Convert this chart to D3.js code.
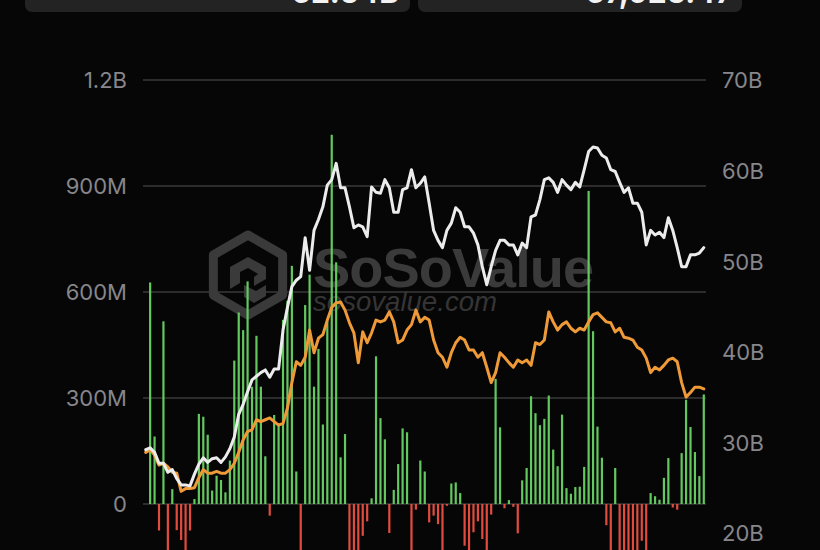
<!DOCTYPE html>
<html>
<head>
<meta charset="utf-8">
<script src="https://cdn.jsdelivr.net/npm/d3@7/dist/d3.min.js"></script>
<style>
  html, body { margin: 0; padding: 0; background: #060606; }
  svg { display: block; }
</style>
</head>
<body>
<svg id="chart" width="820" height="550"></svg>
<script>
// ---- data ----
// daily net flow (millions USD); first day has no bar
const netFlowM = [0,
  627, 191, -75, 517, -150, 42, -74, -102, -150, -75,
  14, 255, 247, 196, 38, 80, 68, 33, 123, 406,
  542, 492, 630, 332, 476, 332, 135, -33, 252, 226,
  521, 575, 674, 92, -160, 563, 649, 332, 439, 225,
  517, 1045, 684, 132, 198, -160, -160, -160, -90, -49,
  16, 418, 243, 183, -82, 40, 113, 214, 203, -160,
  -16, 123, 92, -52, -33, -57, -160, -5, 58, 61,
  31, -118, -160, -80, -49, -99, -160, -30, 354, 217,
  -12, 11, -8, -83, 67, 102, 305, 257, 223, 241,
  307, 154, 107, 253, 45, 29, 48, 49, 105, 886,
  489, 219, 131, -60, -160, 102, -160, -160, -160, -160,
  -160, -104, -160, 31, 22, 12, 74, 130, -10, -16,
  144, 295, 218, 147, 79, 310];

// total net assets (billions USD)
const totalAssetsB = [
  29.2, 29.4, 28.9, 27.7, 27.7, 26.7, 27.0, 26.0, 25.3, 25.3,
  25.2, 26.5, 27.6, 28.3, 27.8, 28.2, 28.3, 27.8, 28.4, 29.3,
  30.6, 33.1, 34.2, 35.6, 36.9, 37.3, 37.7, 38.0, 37.2, 38.1,
  38.1, 42.4, 44.9, 47.2, 47.9, 48.3, 52.6, 49.0, 53.4, 54.6,
  56.0, 58.4, 59.0, 60.8, 58.1, 58.1, 56.0, 53.7, 54.0, 53.8,
  52.7, 58.2, 57.6, 57.5, 59.0, 58.1, 55.4, 55.4, 57.9, 58.1,
  60.1, 58.1, 58.6, 59.3, 56.4, 53.4, 52.3, 51.5, 53.4, 54.2,
  55.9, 55.4, 53.8, 53.8, 53.1, 51.8, 49.4, 47.4, 49.4, 51.2,
  52.3, 52.3, 51.8, 51.8, 50.7, 52.0, 51.5, 54.9, 55.1, 56.8,
  59.0, 59.2, 58.7, 57.6, 59.0, 58.4, 57.9, 58.7, 58.2, 60.1,
  62.1, 62.6, 62.5, 61.7, 61.4, 60.1, 59.9, 58.7, 57.6, 58.1,
  56.4, 56.4, 55.4, 51.8, 53.4, 52.9, 53.2, 52.6, 54.8, 53.4,
  51.5, 49.4, 49.4, 50.7, 50.7, 50.9, 51.5];

// cumulative net inflow (billions USD)
const cumulativeB = [
  28.9, 29.2, 28.6, 27.5, 27.7, 27.3, 26.7, 26.6, 24.6, 24.9,
  24.9, 25.0, 26.1, 27.0, 26.6, 26.6, 26.8, 26.6, 26.6, 27.0,
  27.7, 28.9, 30.3, 31.2, 31.4, 32.5, 32.3, 32.5, 32.7, 32.3,
  31.9, 32.1, 33.8, 36.6, 38.9, 38.5, 39.4, 42.4, 39.9, 41.5,
  41.9, 43.5, 44.9, 45.4, 45.5, 44.6, 43.2, 42.1, 38.8, 42.2,
  41.0, 42.1, 43.5, 43.3, 43.5, 44.4, 43.3, 41.0, 41.3, 42.4,
  43.0, 44.6, 43.3, 43.8, 43.5, 41.3, 39.9, 39.4, 38.3, 39.9,
  41.0, 41.6, 41.3, 40.2, 40.2, 39.4, 39.9, 38.3, 36.6, 37.7,
  39.9, 39.4, 38.8, 38.3, 39.1, 38.8, 39.1, 38.5, 41.0, 40.8,
  41.3, 44.4, 43.3, 42.4, 43.0, 43.3, 42.6, 42.2, 42.6, 42.4,
  43.3, 44.1, 44.3, 43.8, 43.3, 43.2, 42.2, 42.6, 41.6, 41.5,
  41.3, 40.5, 40.2, 39.3, 37.7, 38.3, 38.0, 38.5, 39.1, 39.3,
  38.9, 36.6, 35.0, 35.5, 36.1, 36.1, 35.9];

const days = d3.range(netFlowM.length);

const leftTicks = [0, 300, 600, 900, 1200];
const leftTickLabels = ["0", "300M", "600M", "900M", "1.2B"];
const rightTicks = [20, 30, 40, 50, 60, 70];
const rightTickLabels = ["20B", "30B", "40B", "50B", "60B", "70B"];

const headerValues = ["62.54B", "67,925.47"];

// ---- drawing ----
const svg = d3.select("#chart");
const font = "Inter, 'Liberation Sans', Arial, sans-serif";

svg.append("rect").attr("width", 820).attr("height", 550).attr("fill", "#060606");

// header cards (cut off at top)
const cards = [{x: 25, w: 385, tx: 399}, {x: 418, w: 324, tx: 733}];
cards.forEach((c, i) => {
  svg.append("rect").attr("x", c.x).attr("y", -24).attr("width", c.w).attr("height", 36)
    .attr("rx", 7).attr("fill", "#232323");
  svg.append("text").attr("x", c.tx).attr("y", 3)
    .attr("text-anchor", "end").attr("fill", "#f2f2f2")
    .attr("font-family", font).attr("font-weight", 700).attr("font-size", 30)
    .text(headerValues[i]);
});

const x = d3.scaleBand().domain(days).range([143.5, 706]).paddingInner(0.5).paddingOuter(0.25);
const yL = d3.scaleLinear().domain([0, 1200]).range([504, 80]);
const yR = d3.scaleLinear().domain([20, 70]).range([533, 80]);
const cx = d => x(d) + x.bandwidth() / 2;

// grid
const gridG = svg.append("g");
gridG.selectAll("line").data(leftTicks).join("line")
  .attr("x1", 143).attr("x2", 706)
  .attr("y1", d => yL(d)).attr("y2", d => yL(d))
  .attr("stroke", "#3a3a3a").attr("stroke-width", 1.5);

// axes (labels only)
const axL = svg.append("g").attr("transform", "translate(127,0)")
  .call(d3.axisLeft(yL).tickValues(leftTicks).tickSize(0).tickPadding(0)
    .tickFormat((d, i) => leftTickLabels[i]));
axL.select(".domain").remove();
axL.selectAll("text").attr("fill", "#86868b").attr("font-size", 22)
  .attr("font-family", font).attr("dy", "0.36em");

const axR = svg.append("g").attr("transform", "translate(722,0)")
  .call(d3.axisRight(yR).tickValues(rightTicks).tickSize(0).tickPadding(0)
    .tickFormat((d, i) => rightTickLabels[i]));
axR.select(".domain").remove();
axR.selectAll("text").attr("fill", "#86868b").attr("font-size", 22)
  .attr("font-family", font).attr("dy", "0.36em");

// watermark
const wm = svg.append("g").attr("fill", "#3a3a3a");
const hx = 248, hy = 275, hr = 40;
const hexPts = d3.range(6).map(k => {
  const a = Math.PI / 180 * (60 * k - 90);
  return [hx + hr * Math.cos(a), hy + hr * Math.sin(a)];
});
wm.append("path").attr("d", "M" + hexPts.join("L") + "Z")
  .attr("fill", "none").attr("stroke", "#3a3a3a").attr("stroke-width", 9).attr("stroke-linejoin", "round");
wm.append("path")
  .attr("d", `M${hx-18},${hy-8} L${hx},${hy-18} L${hx+18},${hy-8} L${hx+18},${hy+4} L${hx+6},${hy+11} L${hx+6},${hy+2} L${hx+10},${hy-1} L${hx},${hy-7} L${hx-8},${hy-3} L${hx-8},${hy+8} L${hx-18},${hy+14} Z`);
wm.append("path")
  .attr("d", `M${hx-4},${hy+10} L${hx-4},${hy+22} L${hx+6},${hy+28} L${hx+18},${hy+21} L${hx+18},${hy+10} L${hx+8},${hy+16} Z`);
wm.append("text").attr("x", 313).attr("y", 287)
  .attr("font-family", "'Liberation Sans', Arial, sans-serif").attr("font-weight", 700)
  .attr("font-size", 56).attr("textLength", 280).attr("lengthAdjust", "spacingAndGlyphs")
  .attr("letter-spacing", -1)
  .text("SoSoValue");
wm.append("text").attr("x", 313).attr("y", 311)
  .attr("font-family", "'Liberation Sans', Arial, sans-serif").attr("font-style", "italic")
  .attr("font-size", 28).attr("fill", "#353535").attr("textLength", 184).attr("lengthAdjust", "spacingAndGlyphs")
  .text("sosovalue.com");

// bars
svg.append("g").selectAll("rect").data(days.filter(d => netFlowM[d] !== 0)).join("rect")
  .attr("x", d => cx(d) - 1.1)
  .attr("width", 2.2)
  .attr("y", d => yL(Math.max(0, netFlowM[d])))
  .attr("height", d => Math.abs(yL(netFlowM[d]) - yL(0)))
  .attr("fill", d => netFlowM[d] >= 0 ? "#63c85f" : "#e24c3f");

// lines
const lineGen = arr => d3.line().x(d => cx(d)).y(d => yR(arr[d])).curve(d3.curveLinear);
svg.append("path").datum(days).attr("d", lineGen(cumulativeB))
  .attr("fill", "none").attr("stroke", "#ef9a38").attr("stroke-width", 3)
  .attr("stroke-linejoin", "round").attr("stroke-linecap", "round");
svg.append("path").datum(days).attr("d", lineGen(totalAssetsB))
  .attr("fill", "none").attr("stroke", "#ececec").attr("stroke-width", 3)
  .attr("stroke-linejoin", "round").attr("stroke-linecap", "round");
</script>
</body>
</html>
